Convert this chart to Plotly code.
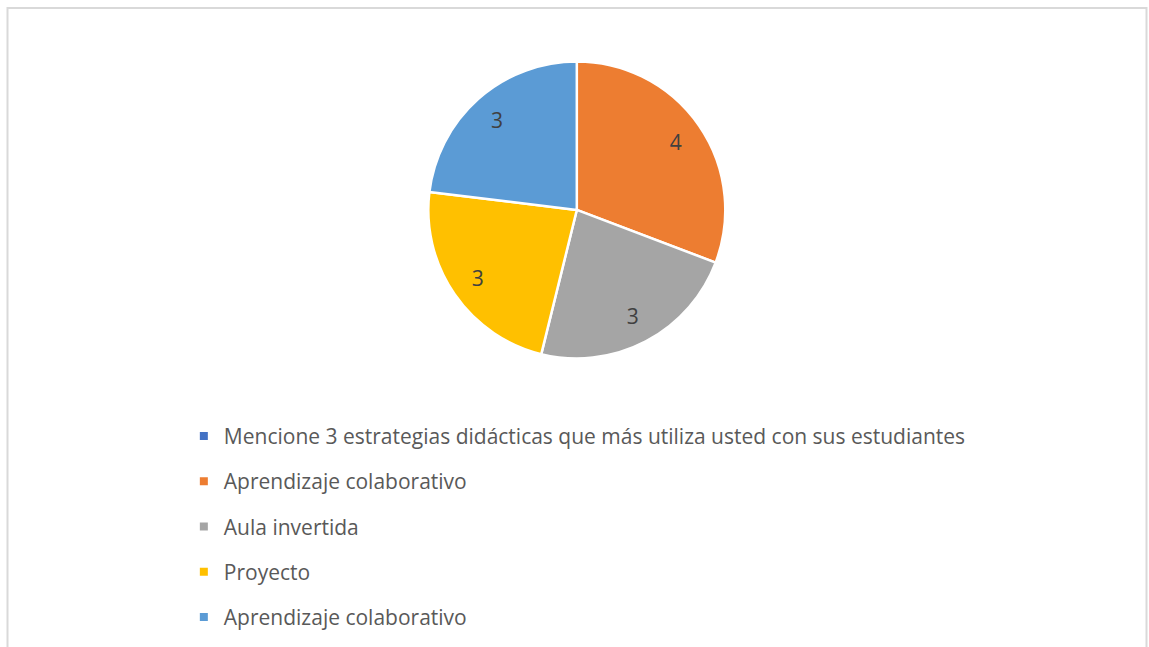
import plotly.graph_objects as go

# data
labels = [
    "Mencione 3 estrategias didácticas que más utiliza usted con sus estudiantes",
    "Aprendizaje colaborativo",
    "Aula invertida",
    "Proyecto",
    "Aprendizaje colaborativo\u200b",  # duplicate name in source, kept distinct
]
values = [0, 4, 3, 3, 3]
colors = ["#4472C4", "#ED7D31", "#A5A5A5", "#FFC000", "#5B9BD5"]

FONT = "Open Sans"
W, H = 1149, 647
PIE_DOMAIN = dict(x=[0.372, 0.632], y=[0.446, 0.905])

fig = go.Figure()

# filled pie, no text
fig.add_trace(go.Pie(
    labels=labels, values=values,
    marker=dict(colors=colors, line=dict(color="white", width=2.5)),
    sort=False, direction="clockwise", rotation=0,
    textinfo="none", domain=PIE_DOMAIN,
    showlegend=False, hoverinfo="label+value",
))
# transparent ring on top, only to put the value labels further out
fig.add_trace(go.Pie(
    labels=labels, values=values, hole=0.62,
    marker=dict(colors=["rgba(0,0,0,0)"] * len(values),
                line=dict(width=0)),
    sort=False, direction="clockwise", rotation=0,
    text=[str(v) if v else "" for v in values],
    textinfo="text", textposition="inside",
    insidetextorientation="horizontal",
    textfont=dict(family=FONT, size=21, color="#404040"),
    domain=PIE_DOMAIN, showlegend=False, hoverinfo="skip",
))

# legend entries (one per category so spacing can be set)
for i, (lab, col) in enumerate(zip(labels, colors)):
    fig.add_trace(go.Scatter(
        x=[None], y=[None], mode="markers", name=lab,
        marker=dict(symbol="square", size=8, color=col),
        legendgroup=f"g{i}", showlegend=True,
    ))

fig.update_layout(
    width=W, height=H,
    margin=dict(l=0, r=0, t=0, b=0),
    paper_bgcolor="white", plot_bgcolor="white",
    xaxis=dict(visible=False), yaxis=dict(visible=False),
    legend=dict(
        x=0.160, y=0.3574, xanchor="left", yanchor="top",
        orientation="v", tracegroupgap=15,
        font=dict(family=FONT, size=21, color="#595959"),
        bgcolor="rgba(0,0,0,0)", itemclick=False,
    ),
    shapes=[dict(
        type="rect", xref="paper", yref="paper",
        x0=7.5 / W, x1=1146.5 / W, y0=-0.05, y1=1 - 8 / H,
        line=dict(color="#D9D9D9", width=2), layer="below",
    )],
)

fig.write_html("out.html", config={"displayModeBar": False},
               post_script="document.body.style.margin='0px';")
